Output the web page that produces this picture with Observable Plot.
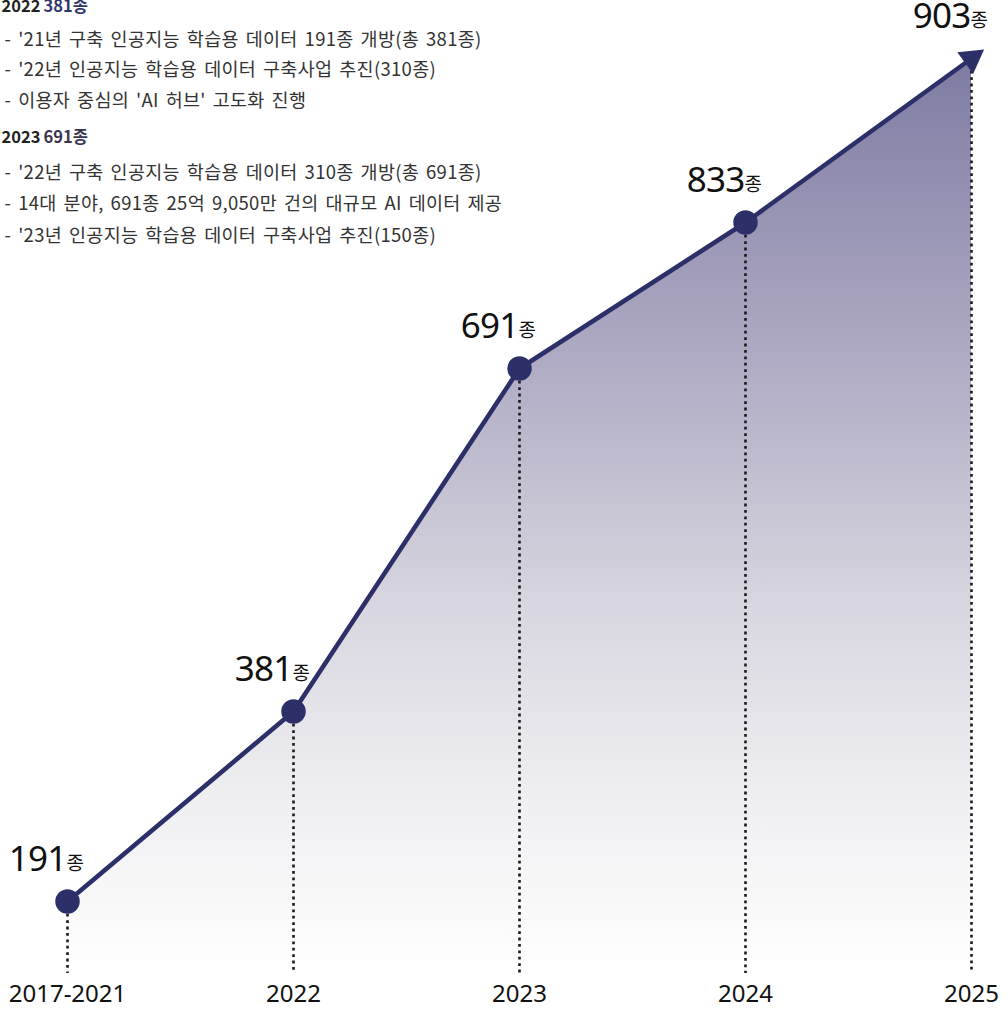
<!DOCTYPE html>
<html>
<head>
<meta charset="utf-8">
<script src="https://cdn.jsdelivr.net/npm/d3@7"></script>
<script src="https://cdn.jsdelivr.net/npm/@observablehq/plot@0.6"></script>
<style>
  html, body { margin: 0; padding: 0; background: #ffffff; }
  #chart { width: 1006px; }
  g[aria-description="notes"] text { letter-spacing: 0.3px; word-spacing: 2.5px; }
  g[aria-description="value"] text { letter-spacing: -0.8px; }
</style>
</head>
<body>
<div id="chart"></div>
<script>
// ---- data ----
const periods = ["2017-2021", "2022", "2023", "2024", "2025"];
const counts = [191, 381, 691, 833, 903];
const unit = "종";
const heading2022Year = "2022";
const heading2022Count = "381종";
const notes2022 = [
  "- '21년 구축 인공지능 학습용 데이터 191종 개방(총 381종)",
  "- '22년 인공지능 학습용 데이터 구축사업 추진(310종)",
  "- 이용자 중심의 'AI 허브' 고도화 진행"
];
const heading2023Year = "2023";
const heading2023Count = "691종";
const notes2023 = [
  "- '22년 구축 인공지능 학습용 데이터 310종 개방(총 691종)",
  "- 14대 분야, 691종 25억 9,050만 건의 대규모 AI 데이터 제공",
  "- '23년 인공지능 학습용 데이터 구축사업 추진(150종)"
];

const data = periods.map((p, i) => ({period: p, count: counts[i]}));
const last = data[data.length - 1];

// ---- layout / style ----
const W = 1006, H = 1010;
const mLeft = 66, mRight = 34, mTop = 0, mBottom = 37;
const navy = "#2d3068";
const KR = "'Noto Sans CJK KR', 'Noto Sans', sans-serif";
const NUM = "'Noto Sans', 'Noto Sans CJK KR', sans-serif";
// the original drawing is not to scale: piecewise vertical scale through the labelled values
const yRange = [901, 711, 368, 222, 58];

const xOpts = {type: "point", domain: periods, padding: 0};
const yOpts = {type: "linear", domain: counts, range: yRange, axis: null};

// scales used to orient the arrow head and find the frame bottom value
const xs = Plot.scale({x: {...xOpts, range: [mLeft, W - mRight]}});
const ys = Plot.scale({y: yOpts});
const n = data.length;
const ddx = xs.apply(periods[n - 1]) - xs.apply(periods[n - 2]);
const ddy = ys.apply(counts[n - 1]) - ys.apply(counts[n - 2]);
const headAngle = Math.atan2(ddx, -ddy) * 180 / Math.PI;
const yBottom = ys.invert(H - mBottom);

const gradientDefs = (index, scales, values, dims) => {
  const top = scales.y(d3.max(counts));
  const bottom = dims.height - dims.marginBottom;
  const defs = d3.create("svg:defs");
  const g = defs.append("linearGradient")
    .attr("id", "area-grad")
    .attr("gradientUnits", "userSpaceOnUse")
    .attr("x1", 0).attr("x2", 0)
    .attr("y1", top).attr("y2", bottom);
  g.append("stop").attr("offset", 0).attr("stop-color", "#7e7ba3");
  g.append("stop").attr("offset", 0.35).attr("stop-color", "#b2aec6");
  g.append("stop").attr("offset", 0.6).attr("stop-color", "#d8d6e0");
  g.append("stop").attr("offset", 0.8).attr("stop-color", "#eeeef1");
  g.append("stop").attr("offset", 1).attr("stop-color", "#ffffff");
  return defs.node();
};

const chart = Plot.plot({
  width: W,
  height: H,
  marginLeft: mLeft,
  marginRight: mRight,
  marginTop: mTop,
  marginBottom: mBottom,
  style: {background: "transparent", fontFamily: KR, overflow: "hidden"},
  x: {...xOpts, axis: null},
  y: yOpts,
  marks: [
    gradientDefs,
    Plot.areaY(data, {x: "period", y1: () => yBottom, y2: "count", fill: "url(#area-grad)"}),
    Plot.ruleX(data, {x: "period", y1: "count", y2: () => yBottom, stroke: "#1a1a1a", strokeWidth: 2.6, strokeDasharray: "2.8,3.6"}),
    Plot.line(data, {x: "period", y: "count", stroke: navy, strokeWidth: 4.6, strokeLinejoin: "round"}),
    Plot.dot(data.slice(0, -1), {x: "period", y: "count", r: 11.5, fill: navy, stroke: navy}),
    Plot.dot([last], {x: "period", y: "count", symbol: "triangle", r: 10, fill: navy, rotate: headAngle}),
    Plot.text(data, {x: "period", y: "count", text: d => String(d.count), textAnchor: "end", lineAnchor: "bottom",
      dx: -1, dy: -31, fontSize: 35, fontFamily: NUM, fill: "#111", ariaDescription: "value"}),
    Plot.text(data, {x: "period", y: "count", text: () => unit, textAnchor: "start", lineAnchor: "bottom",
      dx: -1, dy: -32, fontSize: 19, fontFamily: KR, fill: "#111"}),
    Plot.axisX({tickSize: 0, tickPadding: 11, fontSize: 24, fontFamily: NUM, color: "#111", lineAnchor: "top", label: null}),
    // annotation block (top-left)
    Plot.text([heading2022Year], {frameAnchor: "top-left", text: d => d, dx: 1 - mLeft, dy: 0, textAnchor: "start",
      lineAnchor: "top", fontSize: 16.5, fontWeight: "bold", fill: "#222"}),
    Plot.text([heading2022Count], {frameAnchor: "top-left", text: d => d, dx: 43 - mLeft, dy: 0, textAnchor: "start",
      lineAnchor: "top", fontSize: 16.5, fontWeight: "bold", fill: "#2f3769"}),
    Plot.text([notes2022.join("\n")], {frameAnchor: "top-left", text: d => d, dx: 4 - mLeft, dy: 24, textAnchor: "start",
      lineAnchor: "top", fontSize: 18.5, lineHeight: 1.64, fill: "#333", ariaDescription: "notes"}),
    Plot.text([heading2023Year], {frameAnchor: "top-left", text: d => d, dx: 1 - mLeft, dy: 131, textAnchor: "start",
      lineAnchor: "top", fontSize: 16.5, fontWeight: "bold", fill: "#222"}),
    Plot.text([heading2023Count], {frameAnchor: "top-left", text: d => d, dx: 43 - mLeft, dy: 131, textAnchor: "start",
      lineAnchor: "top", fontSize: 16.5, fontWeight: "bold", fill: "#3a3550"}),
    Plot.text([notes2023.join("\n")], {frameAnchor: "top-left", text: d => d, dx: 4 - mLeft, dy: 156, textAnchor: "start",
      lineAnchor: "top", fontSize: 18.5, lineHeight: 1.70, fill: "#333", ariaDescription: "notes"})
  ]
});

document.getElementById("chart").appendChild(chart);
</script>
</body>
</html>
